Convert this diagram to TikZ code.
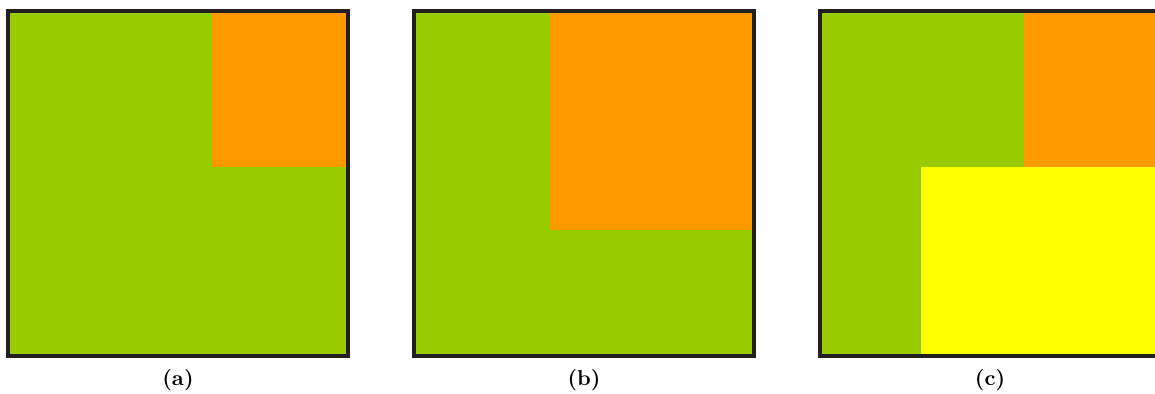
\documentclass[tikz,border=0pt]{standalone}
\usepackage{tikz}
\usetikzlibrary{positioning}
\definecolor{LeafGreen}{RGB}{153,204,0}
\definecolor{BlockOrange}{RGB}{255,153,0}
\definecolor{BlockYellow}{RGB}{255,255,0}
\definecolor{FrameGray}{RGB}{35,31,32}

\begin{document}
\begin{tikzpicture}[x=0.465pt, y=-0.465pt, font=\bfseries,
		frame/.style={draw=FrameGray, line width=1.86pt},
		sublabel/.style={inner sep=0pt}]
	\useasboundingbox (0,0) rectangle (1155,394);
	\clip (0,0) rectangle (1155,394);
	% (a)
	\fill[LeafGreen] (8,11) rectangle (348,356);
	\fill[BlockOrange] (212,11) rectangle (348,167);
	\draw[frame] (8,11) rectangle (348,356);
	\node[sublabel] (capa) at (178,380) {(a)};
	% (b)
	\fill[LeafGreen] (414,11) rectangle (754,356);
	\fill[BlockOrange] (549,11) rectangle (754,230);
	\draw[frame] (414,11) rectangle (754,356);
	\node[sublabel] (capb) at (584,380) {(b)};
	% (c)
	\fill[LeafGreen] (820,11) rectangle (1160,356);
	\fill[BlockOrange] (1024,11) rectangle (1160,167);
	\fill[BlockYellow] (921,167) rectangle (1160,356);
	\draw[frame] (820,11) rectangle (1160,356);
	\node[sublabel] (capc) at (990,380) {(c)};
\end{tikzpicture}
\end{document}
